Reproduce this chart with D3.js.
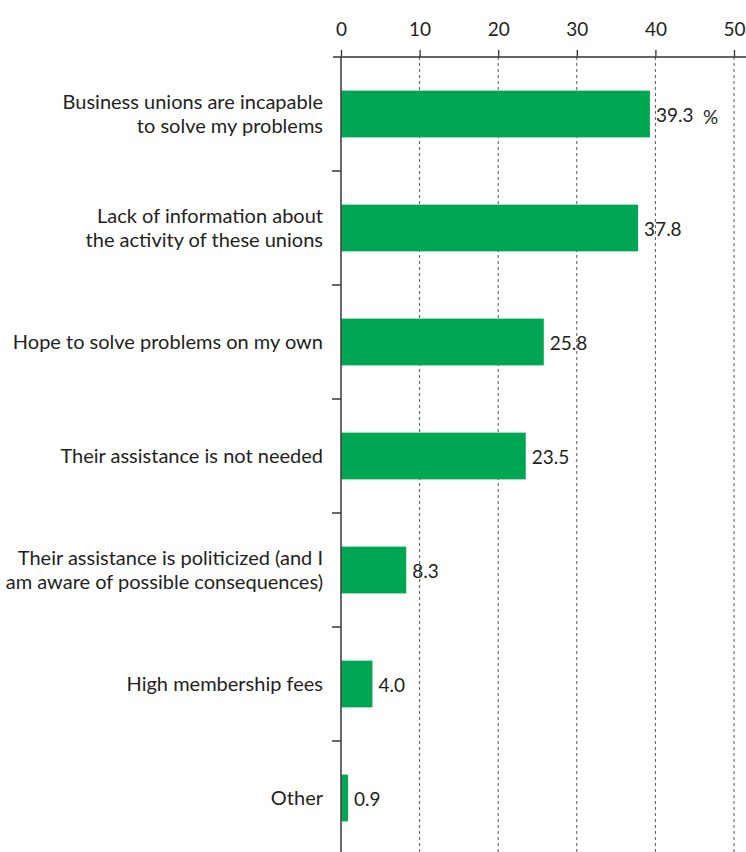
<!DOCTYPE html>
<html>
<head>
<meta charset="utf-8">
<script src="https://cdn.jsdelivr.net/npm/d3@7"></script>
<style>
  body { margin: 0; background: #fff; }
  text { font-family: Lato, "Open Sans", sans-serif; fill: #231f20; }
</style>
</head>
<body>
<div id="chart"></div>
<script>
// data
var categories = [
  ["Business unions are incapable", "to solve my problems"],
  ["Lack of information about", "the activity of these unions"],
  ["Hope to solve problems on my own"],
  ["Their assistance is not needed"],
  ["Their assistance is politicized (and I", "am aware of possible consequences)"],
  ["High membership fees"],
  ["Other"]
];
var values = [39.3, 37.8, 25.8, 23.5, 8.3, 4.0, 0.9];
var xTicks = [0, 10, 20, 30, 40, 50];

var W = 746, H = 852;
var margin = {top: 57, left: 341};
var width = 734 - margin.left;
var bandStep = 114;

var svg = d3.select("#chart")
  .append("svg")
    .attr("width", W)
    .attr("height", H);

var g = svg.append("g")
    .attr("transform", "translate(" + margin.left + "," + margin.top + ")");

var x = d3.scaleLinear().domain([0, 50]).range([0, width]);
var y = d3.scaleBand()
  .domain(d3.range(categories.length))
  .range([0, bandStep * categories.length])
  .paddingInner(0.59)
  .paddingOuter(0.295);

// dashed grid lines
g.selectAll(".grid")
  .data(xTicks.filter(function(d) { return d > 0; }))
  .enter().append("line")
    .attr("x1", function(d) { return x(d); })
    .attr("x2", function(d) { return x(d); })
    .attr("y1", 0)
    .attr("y2", H)
    .attr("stroke", "#555")
    .attr("stroke-width", 1)
    .attr("stroke-dasharray", "3,3");

// bars
g.selectAll(".bar")
  .data(values)
  .enter().append("rect")
    .attr("x", 0)
    .attr("y", function(d, i) { return y(i); })
    .attr("width", function(d) { return x(d); })
    .attr("height", y.bandwidth())
    .attr("fill", "#00a651");

// top axis
var xAxis = g.append("g")
  .call(d3.axisTop(x).tickValues(xTicks).tickSize(7).tickPadding(14).tickFormat(d3.format("d")));
xAxis.select(".domain").remove();
xAxis.selectAll("line").attr("stroke", "#333").attr("stroke-width", 1.3);
xAxis.selectAll("text").attr("font-size", 19).attr("fill", "#231f20")
  .style("font-family", "Lato, 'Open Sans', sans-serif");
g.append("line")
  .attr("x1", -8).attr("x2", W - margin.left)
  .attr("y1", 0).attr("y2", 0)
  .attr("stroke", "#333").attr("stroke-width", 1.3);

// left axis with ticks between categories
g.append("line")
  .attr("x1", 0).attr("x2", 0)
  .attr("y1", 0).attr("y2", H)
  .attr("stroke", "#444").attr("stroke-width", 1.6);
g.selectAll(".sep")
  .data(d3.range(1, categories.length))
  .enter().append("line")
    .attr("x1", -9).attr("x2", 0)
    .attr("y1", function(d) { return d * y.step(); })
    .attr("y2", function(d) { return d * y.step(); })
    .attr("stroke", "#444").attr("stroke-width", 1.6);

// category labels
var lab = g.selectAll(".cat")
  .data(categories)
  .enter().append("text")
    .attr("text-anchor", "end")
    .attr("font-size", 20)
    .attr("x", -18)
    .attr("y", function(d, i) {
      return y(i) + y.bandwidth() / 2 - (d.length - 1) * 12;
    });
lab.selectAll("tspan")
  .data(function(d) { return d; })
  .enter().append("tspan")
    .attr("x", -18)
    .attr("dy", function(d, i) { return i ? 24 : "0.33em"; })
    .text(function(d) { return d; });

// value labels
g.selectAll(".val")
  .data(values)
  .enter().append("text")
    .attr("font-size", 19)
    .attr("x", function(d) { return x(d) + 6; })
    .attr("y", function(d, i) { return y(i) + y.bandwidth() / 2 + 1; })
    .attr("dy", "0.35em")
    .text(function(d, i) { return d.toFixed(1); });

g.append("text")
  .attr("font-size", 19)
  .attr("x", x(values[0]) + 53)
  .attr("y", y(0) + y.bandwidth() / 2 + 3)
  .attr("dy", "0.35em")
  .text("%");
</script>
</body>
</html>
